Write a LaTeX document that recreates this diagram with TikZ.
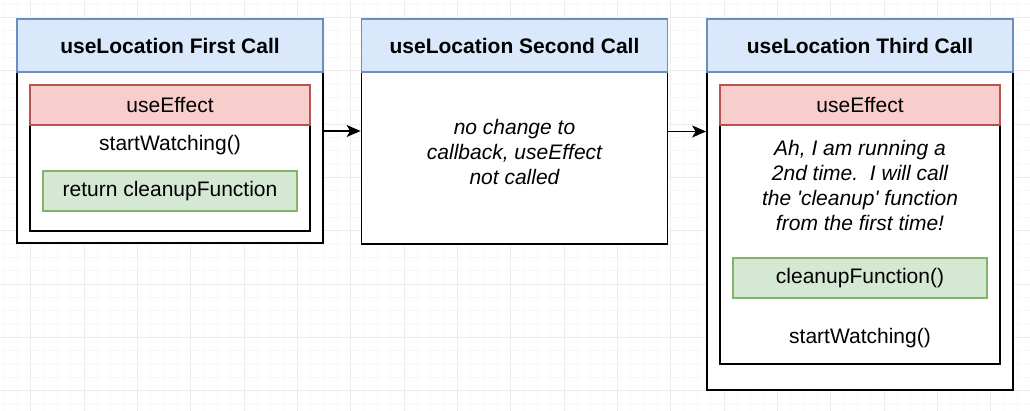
\documentclass[tikz,border=0pt]{standalone}
\usepackage{fontspec}
\newfontfamily\diafont{Liberation Sans}
\usetikzlibrary{arrows.meta}

\definecolor{hdrfill}{HTML}{DAE8FC}
\definecolor{hdrline}{HTML}{6C8EBF}
\definecolor{efffill}{HTML}{F8CECC}
\definecolor{effline}{HTML}{B85450}
\definecolor{cbfill}{HTML}{D5E8D4}
\definecolor{cbline}{HTML}{82B366}
\definecolor{gridminor}{HTML}{F7F7F7}
\definecolor{gridmajor}{HTML}{EDEDED}

\newcommand{\dfont}{\diafont\fontsize{21}{25}\selectfont}

\tikzset{
  callbox/.style={draw=black, line width=1.8pt, fill=white, minimum width=306pt, inner sep=0pt},
  callhdr/.style={draw=hdrline, fill=hdrfill, line width=1.4pt, minimum width=306pt, minimum height=53pt, font=\dfont\bfseries},
  innerbox/.style={draw=black, line width=1.5pt, fill=white, minimum width=280pt, inner sep=0pt},
  effhdr/.style={draw=effline, fill=efffill, line width=1.4pt, minimum width=280pt, minimum height=40pt, font=\dfont},
  cleanbox/.style={draw=cbline, fill=cbfill, line width=1.4pt, minimum width=254pt, minimum height=40pt, font=\dfont},
  plain/.style={font=\dfont, align=center, inner sep=0pt},
  note/.style={font=\dfont\itshape, align=center, inner sep=0pt}
}

\begin{document}
\begin{tikzpicture}[x=1pt, y=-1pt, >={Stealth[length=14pt, width=12pt, inset=3.5pt]}]
    \useasboundingbox (0,0) rectangle (1030,411);
    \fill[white] (0,0) rectangle (1030,411);

    % 1. Luoi nen mo
    \foreach \i in {0,...,77} \draw[gridminor, line width=0.8pt] ({4+13.333*\i},0) -- ({4+13.333*\i},411);
    \foreach \j in {0,...,30} \draw[gridminor, line width=0.8pt] (0,{4+13.333*\j}) -- (1030,{4+13.333*\j});
    \foreach \i in {0,...,19} \draw[gridmajor, line width=0.9pt] ({30.667+53.333*\i},0) -- ({30.667+53.333*\i},411);
    \foreach \j in {0,...,7} \draw[gridmajor, line width=0.9pt] (0,{17.333+53.333*\j}) -- (1030,{17.333+53.333*\j});

    % 2. Lan goi thu nhat
    \node[callbox, minimum height=224pt] (first) at (170,131) {};
    \node[callhdr] (firsthdr) at (170,45.5) {useLocation First Call};
    \node[innerbox, minimum height=146pt] (firstin) at (170,158) {};
    \node[effhdr] (firsteff) at (170,105) {useEffect};
    \node[plain] (firstwatch) at (170,145) {startWatching()};
    \node[cleanbox] (firstret) at (170,191) {return cleanupFunction};

    % 3. Lan goi thu hai
    \node[callbox, minimum height=225pt] (second) at (514.5,131.5) {};
    \node[callhdr] (secondhdr) at (514.5,45.5) {useLocation Second Call};
    \node[note] (secondnote) at (514.5,152.5) {no change to\\callback, useEffect\\not called};

    % 4. Lan goi thu ba
    \node[callbox, minimum height=371pt] (third) at (860,204.5) {};
    \node[callhdr] (thirdhdr) at (860,45.5) {useLocation Third Call};
    \node[innerbox, minimum height=279pt] (thirdin) at (860,224.5) {};
    \node[effhdr] (thirdeff) at (860,105) {useEffect};
    \node[note] (thirdnote) at (860,185.5) {Ah, I am running a\\2nd time.\ \ I will call\\the 'cleanup' function\\from the first time!};
    \node[cleanbox] (thirdclean) at (860,278) {cleanupFunction()};
    \node[plain] (thirdwatch) at (860,338) {startWatching()};

    % 5. Mui ten giua cac lan goi
    \draw[->, line width=1.3pt] (first.east) -- (first.east -| second.west);
    \draw[->, line width=1.3pt] (second.east) -- (second.east -| third.west);

\end{tikzpicture}
\end{document}
